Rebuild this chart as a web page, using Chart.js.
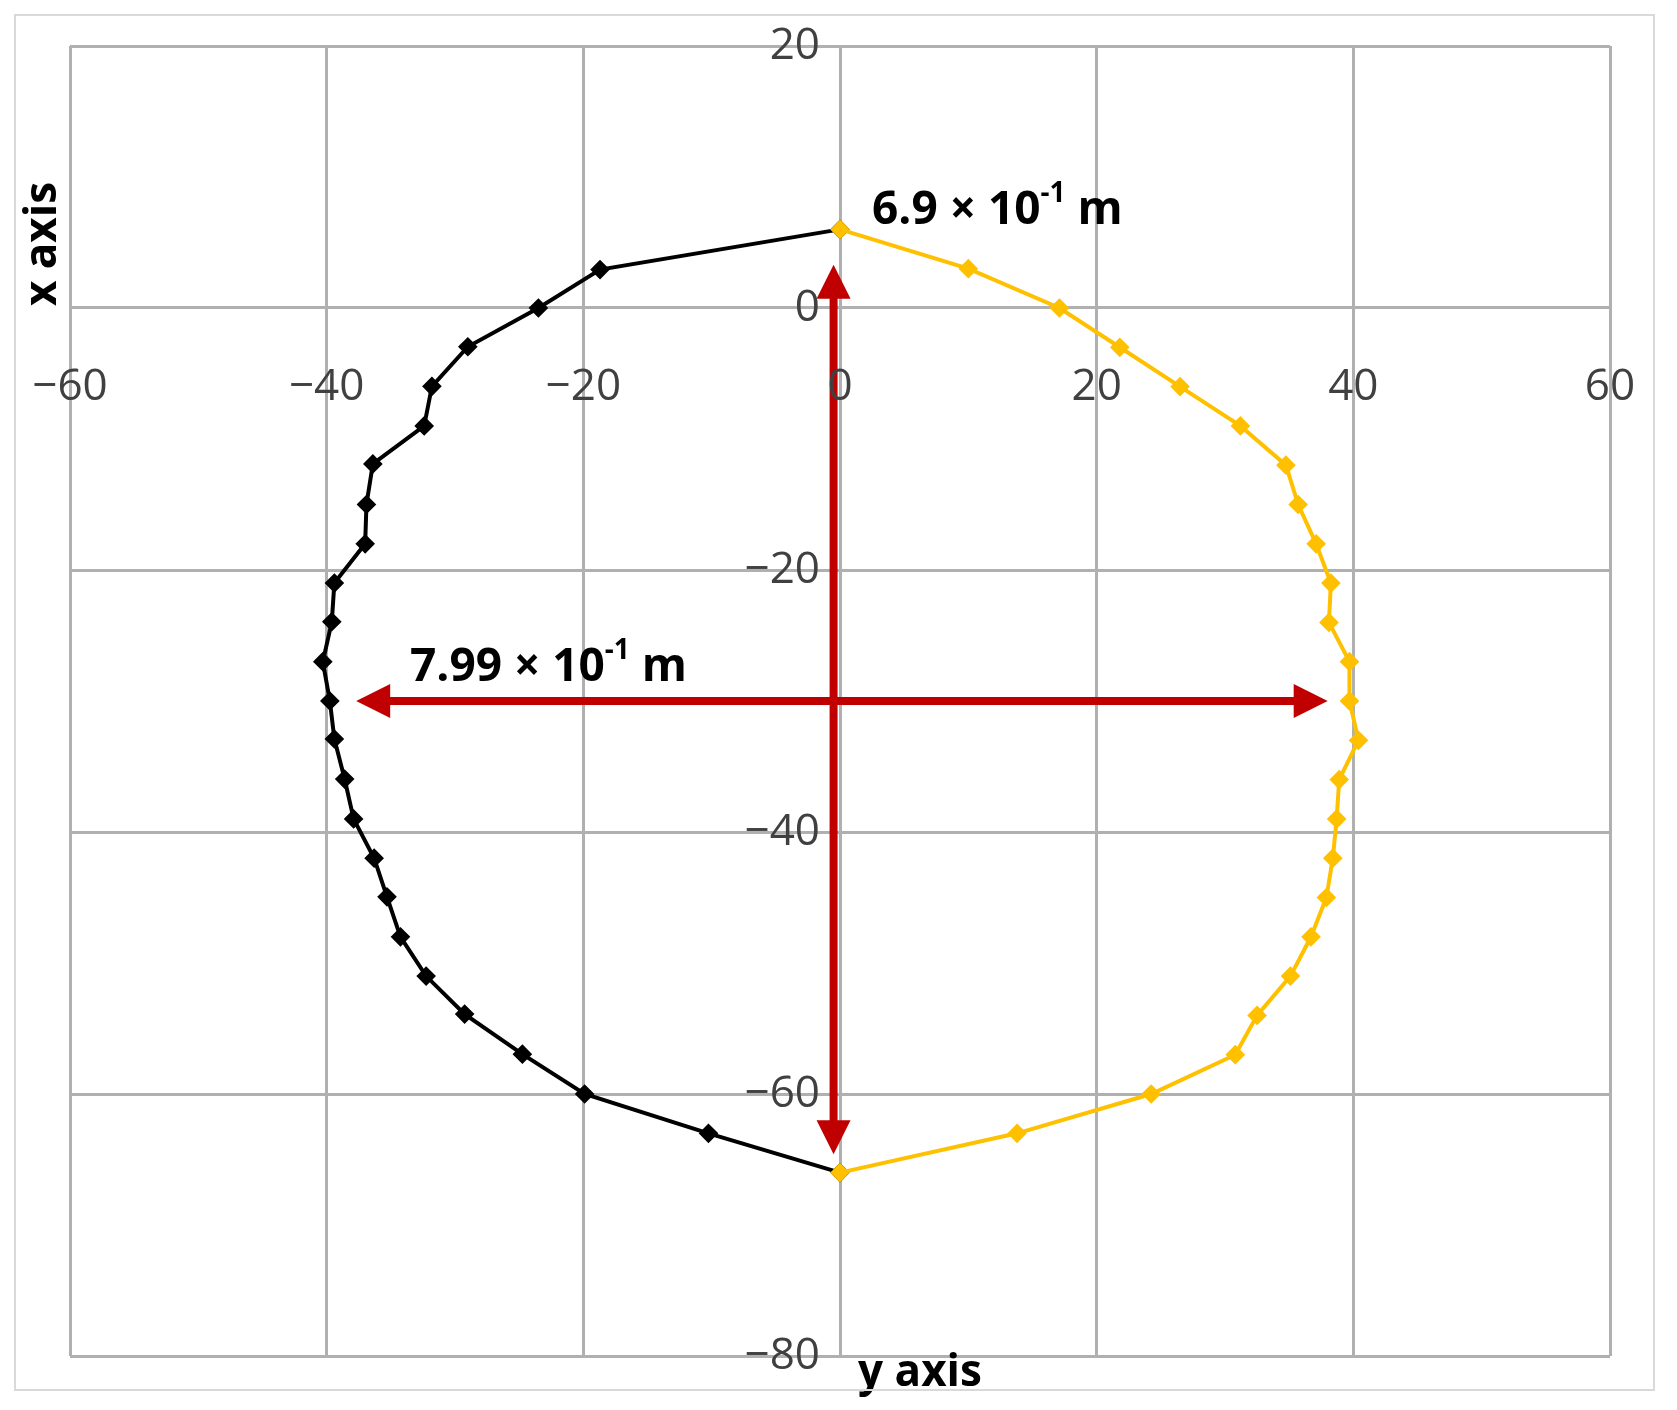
<!DOCTYPE html>
<html><head><meta charset="utf-8">
<script src="https://cdn.jsdelivr.net/npm/chart.js@4"></script>
<style>
html,body{margin:0;padding:0;background:#fff;}
#wrap{position:relative;width:1677px;height:1410px;}
#frame{position:absolute;left:14px;top:14px;width:1641px;height:1377px;border:2px solid #d9d9d9;box-sizing:border-box;pointer-events:none;}
</style></head><body>
<div id="wrap"><canvas id="c" width="1677" height="1410"></canvas><div id="frame"></div></div>
<script>
const blackY = [0,-18.7,-23.5,-29,-31.8,-32.4,-36.4,-36.9,-37,-39.4,-39.6,-40.3,-39.75,-39.4,-38.6,-37.9,-36.3,-35.3,-34.25,-32.25,-29.25,-24.75,-19.9,-10.25,0];
const blackX = [6,2.93,0,-2.96,-5.98,-9,-11.9,-15,-18,-21,-23.95,-27,-30,-32.9,-35.96,-39,-42,-44.95,-48,-51,-53.9,-56.96,-60,-63,-66];
const yellowY = [0,10,17.1,21.8,26.5,31.2,34.75,35.7,37.1,38.25,38.1,39.7,39.7,40.4,38.9,38.7,38.4,37.9,36.7,35.1,32.5,30.8,24.25,13.8,0];
const yellowX = [6,3,0,-3,-6,-9,-12,-15,-18,-21,-24,-27,-30,-33,-36,-39,-42,-45,-48,-51,-54,-57,-60,-63,-66];
const hTicks = [-60,-40,-20,0,20,40,60];
const vTicks = [20,0,-20,-40,-60,-80];
const vArrow = {x:-0.5, from:-64.6, to:3.3};
const hArrow = {y:-30, from:-37.7, to:38};
const pts=(a,b)=>a.map((v,i)=>({x:v,y:b[i]}));
const fmt=v=>v<0?'\u2212'+Math.abs(v):String(v);
function arrowHead(ctx,x,y,ang){const L=34,W=17;ctx.save();ctx.translate(x,y);ctx.rotate(ang);ctx.beginPath();ctx.moveTo(0,0);ctx.lineTo(-L,W);ctx.lineTo(-L,-W);ctx.closePath();ctx.fill();ctx.restore();}
function sup(ctx,parts,x,y){
  let cx=x;ctx.textAlign='left';ctx.textBaseline='alphabetic';
  for(const [t,s] of parts){ctx.font=(s?'bold 28px':'bold 46px')+' "Open Sans", sans-serif';ctx.fillText(t,cx,s?y-22:y);cx+=ctx.measureText(t).width;}
}
const deco={id:'deco',
 afterDatasetsDraw(ch){const ctx=ch.ctx,xs=ch.scales.x,ys=ch.scales.y;ctx.save();
  ctx.strokeStyle='#C00000';ctx.fillStyle='#C00000';ctx.lineWidth=8;
  let x=xs.getPixelForValue(vArrow.x),a=ys.getPixelForValue(vArrow.from),b=ys.getPixelForValue(vArrow.to);
  ctx.beginPath();ctx.moveTo(x,a-30);ctx.lineTo(x,b+30);ctx.stroke();
  arrowHead(ctx,x,a,Math.PI/2);arrowHead(ctx,x,b,-Math.PI/2);
  let y=ys.getPixelForValue(hArrow.y),l=xs.getPixelForValue(hArrow.from),r=xs.getPixelForValue(hArrow.to);
  ctx.beginPath();ctx.moveTo(l+30,y);ctx.lineTo(r-30,y);ctx.stroke();
  arrowHead(ctx,l,y,Math.PI);arrowHead(ctx,r,y,0);
  ctx.fillStyle='#404040';ctx.font='44px "Open Sans", sans-serif';ctx.textBaseline='middle';
  ctx.textAlign='center';for(const t of hTicks)ctx.fillText(fmt(t),xs.getPixelForValue(t),387);
  ctx.textAlign='right';const x0=xs.getPixelForValue(0);for(const t of vTicks)ctx.fillText(fmt(t),x0-20,ys.getPixelForValue(t));
  ctx.fillStyle='#000';
  sup(ctx,[['6.9 × 10',0],['-1',1],[' m',0]],872,224);
  sup(ctx,[['7.99 × 10',0],['-1',1],[' m',0]],410,681);
  ctx.font='bold 44px "Open Sans", sans-serif';ctx.textAlign='center';ctx.textBaseline='middle';
  ctx.fillText('y axis',920,1373);
  ctx.save();ctx.translate(43,244);ctx.rotate(-Math.PI/2);ctx.fillText('x axis',0,0);ctx.restore();
  ctx.restore();}};
new Chart(document.getElementById('c'),{type:'scatter',
 data:{datasets:[
  {data:pts(yellowY,yellowX),showLine:true,borderColor:'#FFC000',backgroundColor:'#FFC000',borderWidth:4,pointStyle:'rectRot',pointRadius:7},
  {data:pts(blackY,blackX),showLine:true,borderColor:'#000',backgroundColor:'#000',borderWidth:4,pointStyle:'rectRot',pointRadius:7}]},
 options:{responsive:false,animation:false,devicePixelRatio:1,
  layout:{padding:{left:70,right:67,top:46,bottom:54}},
  plugins:{legend:{display:false},tooltip:{enabled:false}},
  scales:{
   x:{min:-60,max:60,ticks:{stepSize:20,display:false},grid:{color:'#b0b0b0',lineWidth:3,drawTicks:false},border:{display:false}},
   y:{min:-80,max:20,ticks:{stepSize:20,display:false},grid:{color:'#b0b0b0',lineWidth:3,drawTicks:false},border:{display:false}}}},
 plugins:[deco]});
</script></body></html>
